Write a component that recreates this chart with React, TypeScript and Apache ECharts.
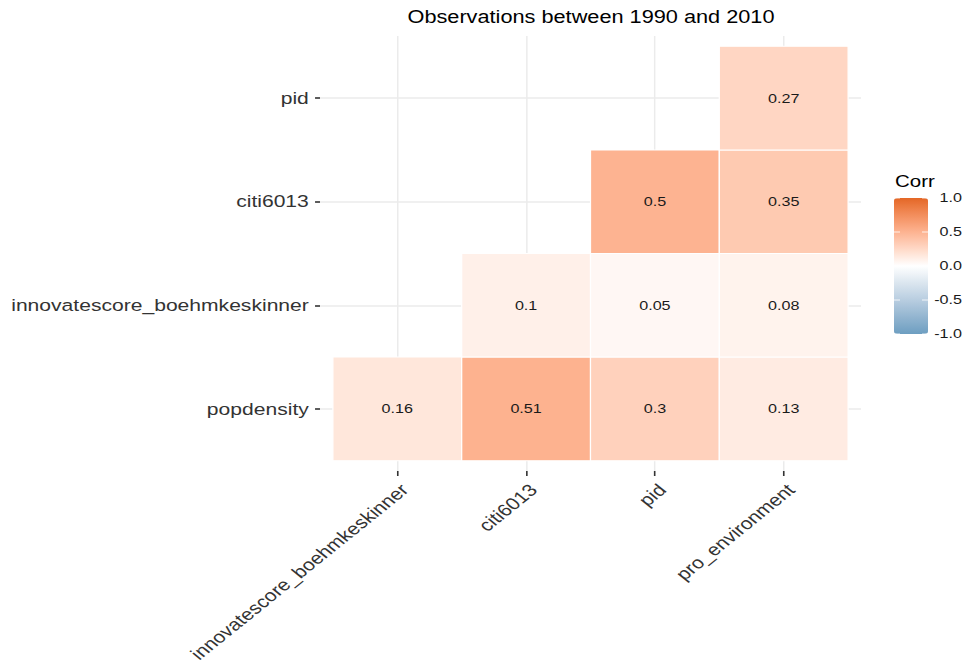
import React, { useEffect, useRef } from 'react';
import * as echarts from 'echarts';

const xCategories = ['innovatescore_boehmkeskinner', 'citi6013', 'pid', 'pro_environment'];
const yCategories = ['popdensity', 'innovatescore_boehmkeskinner', 'citi6013', 'pid'];

// correlation values, one array per y row (bottom to top), one entry per x column
const popdensityRow = [0.16, 0.51, 0.3, 0.13];
const innovatescoreRow = [null, 0.1, 0.05, 0.08];
const citi6013Row = [null, null, 0.5, 0.35];
const pidRow = [null, null, null, 0.27];

const legendBreaks = [1.0, 0.5, 0.0, -0.5, -1.0];
const legendLabels = ['1.0', '0.5', '0.0', '-0.5', '-1.0'];
const colorStops = ['#6D9EC1', '#93B5D0', '#B8CDE0', '#DBE6EF', '#FFFFFF', '#FFD9C7', '#FDB391', '#F38E5C', '#E46726'];
const titleText = 'Observations between 1990 and 2010';
const legendTitle = 'Corr';

const FONT = '"Liberation Sans", Arial, Helvetica, sans-serif';

// the reference picture is stretched horizontally (square cells appear 1.24x wider)
const K = 1.2411;
const W = 784;
const H = 664;
const sx = (x: number) => x / K;

export default function App() {
  const ref = useRef<HTMLDivElement>(null);

  useEffect(() => {
    if (!ref.current) return;
    const chart = echarts.init(ref.current, undefined, { renderer: 'svg' });

    const rows = [popdensityRow, innovatescoreRow, citi6013Row, pidRow];
    const data: number[][] = [];
    rows.forEach((row, r) => {
      row.forEach((v, c) => {
        if (v !== null && v !== undefined) data.push([c, r, v as number]);
      });
    });

    const barLeft = sx(894);
    const barTop = 198;
    const barW = sx(34);
    const barH = 136;
    const yOf = (v: number) => barTop + ((1 - v) / 2) * barH;

    const graphics: any[] = [
      {
        type: 'text',
        x: sx(591),
        y: 17,
        style: {
          text: titleText,
          align: 'center',
          verticalAlign: 'middle',
          fontSize: 17.5,
          fontFamily: FONT,
          fill: '#000',
        },
      },
      {
        type: 'text',
        x: sx(895),
        y: 181,
        style: {
          text: legendTitle,
          align: 'left',
          verticalAlign: 'middle',
          fontSize: 16.5,
          fontFamily: FONT,
          fill: '#000',
        },
      },
    ];
    legendBreaks.forEach((b, i) => {
      const y = yOf(b);
      graphics.push({
        type: 'text',
        x: sx(962),
        y,
        style: {
          text: legendLabels[i],
          align: 'right',
          verticalAlign: 'middle',
          fontSize: 13,
          fontFamily: FONT,
          fill: '#1a1a1a',
        },
        z: 10,
      });
      graphics.push({
        type: 'line',
        shape: { x1: barLeft, y1: y, x2: barLeft + sx(6), y2: y },
        style: { stroke: 'rgba(255,255,255,0.8)', lineWidth: 1 },
        z: 10,
      });
      graphics.push({
        type: 'line',
        shape: { x1: barLeft + barW - sx(6), y1: y, x2: barLeft + barW, y2: y },
        style: { stroke: 'rgba(255,255,255,0.8)', lineWidth: 1 },
        z: 10,
      });
    });

    chart.setOption({
      animation: false,
      grid: {
        left: sx(320),
        right: W - sx(861),
        top: 36,
        bottom: 193,
        containLabel: false,
        outerBoundsMode: 'none',
      },
      xAxis: {
        type: 'value',
        min: -0.6,
        max: 3.6,
        position: 'bottom',
        axisLine: { show: false, onZero: false },
        axisTick: {
          show: true,
          customValues: [0, 1, 2, 3],
          length: 5,
          lineStyle: { color: '#333', width: 1.3 },
        },
        splitLine: { show: true, lineStyle: { color: '#EBEBEB', width: 1.2 } },
        axisLabel: {
          customValues: [0, 1, 2, 3],
          formatter: (v: number) => xCategories[Math.round(v)] ?? '',
          rotate: 45,
          align: 'right',
          verticalAlign: 'top',
          margin: 10,
          fontSize: 17,
          color: '#333',
          fontFamily: FONT,
        },
      },
      yAxis: {
        type: 'value',
        min: -0.6,
        max: 3.6,
        position: 'left',
        axisLine: { show: false, onZero: false },
        axisTick: {
          show: true,
          customValues: [0, 1, 2, 3],
          length: 4,
          lineStyle: { color: '#333', width: 1.6 },
        },
        splitLine: { show: true, lineStyle: { color: '#EBEBEB', width: 1.5 } },
        axisLabel: {
          customValues: [0, 1, 2, 3],
          formatter: (v: number) => yCategories[Math.round(v)] ?? '',
          margin: 9,
          fontSize: 17,
          color: '#333',
          fontFamily: FONT,
        },
      },
      visualMap: {
        type: 'continuous',
        min: -1,
        max: 1,
        dimension: 2,
        seriesIndex: 0,
        orient: 'vertical',
        left: barLeft,
        top: barTop,
        itemWidth: barW,
        itemHeight: barH,
        padding: 0,
        calculable: false,
        hoverLink: false,
        inRange: { color: colorStops },
      },
      graphic: graphics,
      series: [
        {
          type: 'custom',
          coordinateSystem: 'cartesian2d',
          data,
          encode: { x: 0, y: 1 },
          renderItem: (params: any, api: any) => {
            const x = api.value(0);
            const y = api.value(1);
            const v = api.value(2);
            const c = api.coord([x, y]);
            const s = api.size([1, 1]);
            return {
              type: 'group',
              children: [
                {
                  type: 'rect',
                  shape: { x: c[0] - s[0] / 2, y: c[1] - s[1] / 2, width: s[0], height: s[1] },
                  style: { fill: api.visual('color'), stroke: '#fff', lineWidth: 1 },
                },
                {
                  type: 'text',
                  style: {
                    text: String(v),
                    x: c[0],
                    y: c[1],
                    align: 'center',
                    verticalAlign: 'middle',
                    fill: '#1a1a1a',
                    fontSize: 13,
                    fontFamily: FONT,
                  },
                },
              ],
            };
          },
        },
      ],
    });

    return () => {
      chart.dispose();
    };
  }, []);

  return (
    <div
      ref={ref}
      style={{
        position: 'fixed',
        left: 0,
        top: 0,
        width: W,
        height: H,
        background: '#fff',
        transform: `scaleX(${K})`,
        transformOrigin: '0 0',
      }}
    />
  );
}
